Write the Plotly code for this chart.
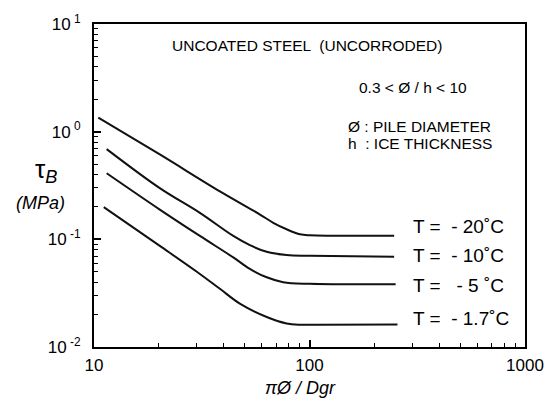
import plotly.graph_objects as go

# Data (x = piD/Dgr, y = tau_B in MPa)
x_m20 = [10.47, 20.2, 38.4, 58.9, 67.9, 78.3, 90.4, 100.5, 247]
y_m20 = [1.35, 0.614, 0.279, 0.170, 0.1425, 0.124, 0.1114, 0.109, 0.108]

x_m10 = [11.45, 20.2, 31.0, 44.3, 52.9, 63.3, 78.3, 100.5, 247]
y_m10 = [0.689, 0.299, 0.176, 0.1075, 0.0883, 0.0766, 0.0714, 0.0704, 0.069]

x_m5 = [11.45, 20.2, 31.0, 44.3, 52.9, 63.3, 75.5, 100.5, 251]
y_m5 = [0.411, 0.189, 0.1075, 0.0679, 0.0531, 0.0444, 0.040, 0.0386, 0.0382]

x_m17 = [11.1, 20.2, 31.0, 38.4, 47.5, 63.3, 78.3, 90.4, 112, 256]
y_m17 = [0.199, 0.0869, 0.0477, 0.0347, 0.0253, 0.019, 0.01656, 0.0161, 0.0161, 0.0162]

series = [(x_m20, y_m20), (x_m10, y_m10), (x_m5, y_m5), (x_m17, y_m17)]
labels = ["T =  - 20\u02daC", "T =  - 10\u02daC", "T =   - 5 \u02daC", "T =  - 1.7\u02daC"]

x_ticks = [10, 100, 1000]
x_ticktext = ["10", "100", "1000"]
y_ticks = [0.01, 0.1, 1, 10]
y_ticktext = ["10<sup> -2</sup>", "10<sup> -1</sup>", "10<sup> 0</sup>", "10<sup> 1</sup>"]

FONT = "Liberation Sans, Arial, sans-serif"

fig = go.Figure()
for xs, ys in series:
    fig.add_trace(go.Scatter(x=xs, y=ys, mode="lines",
                             line=dict(color="#111111", width=2, shape="spline", smoothing=1.0),
                             showlegend=False, hoverinfo="skip"))

x_minor = [m * 10 ** e for e in (1, 2) for m in range(2, 10)]
y_minor = [m * 10 ** e for e in (-2, -1, 0) for m in range(2, 10)]

fig.update_xaxes(type="log", range=[1, 3], tickvals=x_ticks, ticktext=x_ticktext,
                 ticks="inside", ticklen=7, tickwidth=1.5, tickcolor="black",
                 showline=True, linecolor="black", linewidth=2, mirror=True,
                 showgrid=False, zeroline=False, ticklabelstandoff=2,
                 tickfont=dict(family=FONT, size=17, color="black"),
                 minor=dict(tickvals=x_minor, ticks="inside", ticklen=4,
                            tickwidth=1.2, tickcolor="black", showgrid=False))
fig.update_yaxes(type="log", range=[-2, 1], tickvals=y_ticks, ticktext=y_ticktext,
                 ticks="inside", ticklen=7, tickwidth=1.5, tickcolor="black",
                 showline=True, linecolor="black", linewidth=2, mirror=True,
                 showgrid=False, zeroline=False, ticklabelstandoff=8,
                 tickfont=dict(family=FONT, size=17, color="black"),
                 minor=dict(tickvals=y_minor, ticks="inside", ticklen=4,
                            tickwidth=1.2, tickcolor="black", showgrid=False))

ann = []
def add(text, x, y, size=13, xanchor="center", italic=False):
    ann.append(dict(text=("<i>%s</i>" % text) if italic else text, x=x, y=y,
                    xref="paper", yref="paper", showarrow=False,
                    xanchor=xanchor, yanchor="middle",
                    font=dict(family=FONT, size=size, color="black")))

add("UNCOATED STEEL  (UNCORRODED)", 0.494, 0.933, 15.5)
add("0.3 < \u00d8 / h < 10", 0.740, 0.804, 15.5)
add("\u00d8 : PILE DIAMETER", 0.585, 0.684, 15.5, "left")
add("h  : ICE THICKNESS", 0.585, 0.629, 15.5, "left")
for lab, yp in zip(labels, [0.374, 0.282, 0.190, 0.089]):
    add(lab, 0.735, yp, 19, "left")

add("\u03c4<sub><i>B</i></sub>", -0.112, 0.545, 26)
add("(MPa)", -0.125, 0.445, 18, italic=True)
add("\u03c0\u00d8 / Dgr", 0.478, -0.128, 18, italic=True)

fig.update_layout(width=556, height=400,
                  margin=dict(l=94, r=31, t=21, b=53),
                  paper_bgcolor="white", plot_bgcolor="white",
                  annotations=ann)

fig.write_html("out.html")
